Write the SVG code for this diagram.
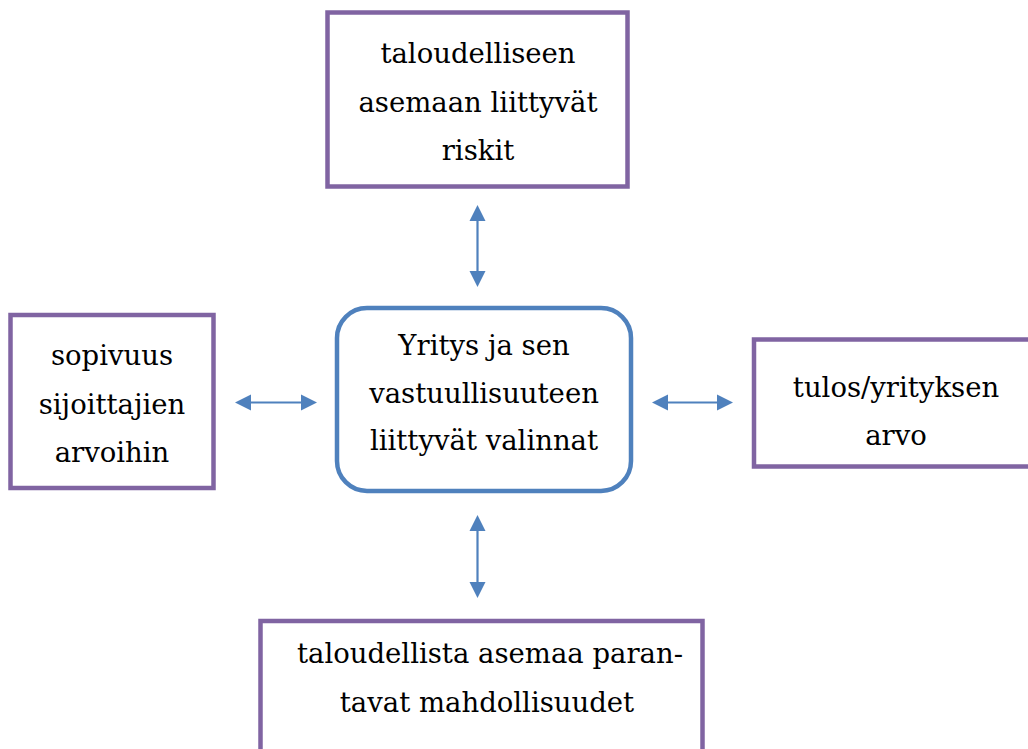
<svg xmlns="http://www.w3.org/2000/svg" width="1028" height="749" viewBox="0 0 1028 749">
  <style>
    .box { fill: #ffffff; stroke: #8064A2; stroke-width: 4.5; }
    .center { fill: #ffffff; stroke: #4F81BD; stroke-width: 4.5; }
    .lbl { font-family: "DejaVu Serif", "Liberation Serif", serif; font-size: 27.5px; fill: #000000; text-anchor: middle; }
    .conn { stroke: #4F81BD; stroke-width: 2.2; fill: none; marker-start: url(#ah); marker-end: url(#ah); }
  </style>
  <defs>
    <marker id="ah" markerUnits="userSpaceOnUse" markerWidth="17" markerHeight="17" refX="0" refY="8" orient="auto-start-reverse" viewBox="0 0 17 16">
      <path d="M0,0 L16,8 L0,16 Z" fill="#4F81BD"/>
    </marker>
  </defs>
  <rect width="1028" height="749" fill="#ffffff"/>

  <g id="connectors">
    <line class="conn" x1="477.5" y1="221" x2="477.5" y2="271"/>
    <line class="conn" x1="477.5" y1="531" x2="477.5" y2="582"/>
    <line class="conn" x1="251" y1="402.5" x2="301" y2="402.5"/>
    <line class="conn" x1="668" y1="402.5" x2="717" y2="402.5"/>
  </g>

  <g id="node-top">
    <rect class="box" x="327.5" y="12.5" width="300" height="174"/>
    <text class="lbl" x="478" y="63">taloudelliseen</text>
    <text class="lbl" x="478" y="111.5">asemaan liittyvät</text>
    <text class="lbl" x="478" y="160">riskit</text>
  </g>

  <g id="node-center">
    <rect class="center" x="337" y="308" width="294" height="183" rx="30" ry="30"/>
    <text class="lbl" x="484" y="355">Yritys ja sen</text>
    <text class="lbl" x="484" y="402.5">vastuullisuuteen</text>
    <text class="lbl" x="484" y="450">liittyvät valinnat</text>
  </g>

  <g id="node-left">
    <rect class="box" x="10.5" y="315" width="203" height="173"/>
    <text class="lbl" x="112" y="365">sopivuus</text>
    <text class="lbl" x="112" y="413.5">sijoittajien</text>
    <text class="lbl" x="112" y="462">arvoihin</text>
  </g>

  <g id="node-right">
    <rect class="box" x="754" y="339.5" width="300" height="127"/>
    <text class="lbl" x="896" y="397">tulos/yrityksen</text>
    <text class="lbl" x="896" y="445">arvo</text>
  </g>

  <g id="node-bottom">
    <rect class="box" x="260.5" y="621" width="442" height="160"/>
    <text class="lbl" x="490" y="663">taloudellista asemaa paran-</text>
    <text class="lbl" x="487" y="712">tavat mahdollisuudet</text>
  </g>
</svg>
